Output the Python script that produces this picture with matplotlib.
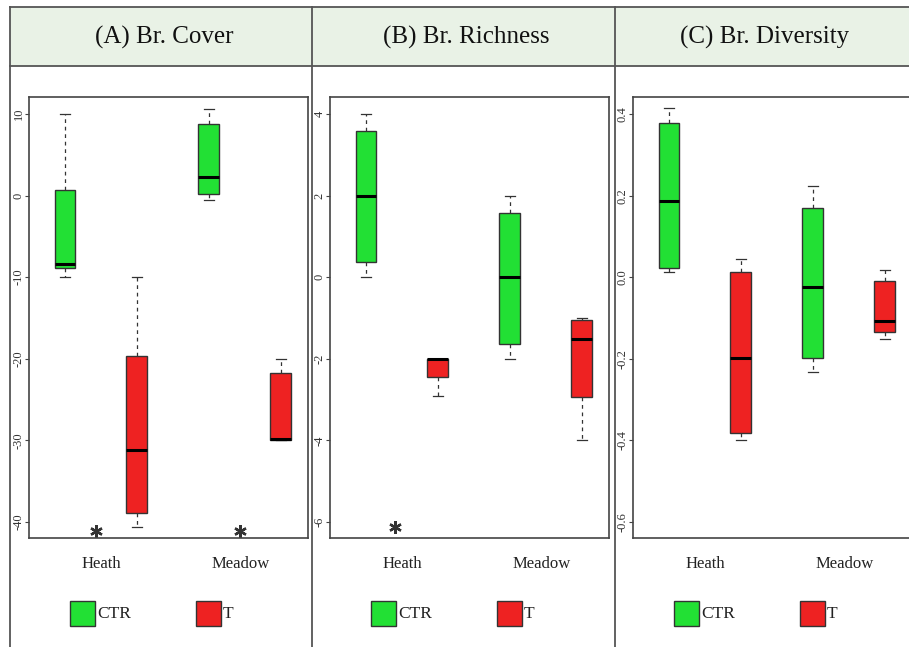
import numpy as np
import matplotlib
matplotlib.use("Agg")
import matplotlib.pyplot as plt
from matplotlib.patches import Rectangle
from matplotlib.lines import Line2D

plt.rcParams["font.family"] = ["Liberation Serif", "DejaVu Serif"]

# =========================
# DATA
# =========================

titles = ["(A) Br. Cover", "(B) Br. Richness", "(C) Br. Diversity"]
sites = ["Heath", "Meadow"]
groups = ["CTR", "T"]

# box order: Heath CTR, Heath T, Meadow CTR, Meadow T
cover_whislo = [-10.0, -40.65, -0.54, -30.0]
cover_q1 = [-8.9, -38.9, 0.2, -30.0]
cover_med = [-8.35, -31.2, 2.24, -29.8]
cover_q3 = [0.72, -19.66, 8.8, -21.8]
cover_whishi = [10.0, -10.0, 10.6, -20.0]

rich_whislo = [0.0, -2.91, -2.0, -3.98]
rich_q1 = [0.37, -2.44, -1.63, -2.93]
rich_med = [2.0, -2.0, 0.0, -1.5]
rich_q3 = [3.58, -2.0, 1.57, -1.04]
rich_whishi = [4.0, -2.0, 2.0, -1.0]

div_whislo = [0.013, -0.398, -0.233, -0.151]
div_q1 = [0.023, -0.381, -0.199, -0.135]
div_med = [0.187, -0.198, -0.023, -0.107]
div_q3 = [0.378, 0.013, 0.170, -0.008]
div_whishi = [0.415, 0.046, 0.224, 0.019]

cover_ticks = [-40, -30, -20, -10, 0, 10]
rich_ticks = [-6, -4, -2, 0, 2, 4]
div_ticks = [-0.6, -0.4, -0.2, 0.0, 0.2, 0.4]
div_ticklabels = ["-0.6", "-0.4", "-0.2", "0.0", "0.2", "0.4"]

# significance stars (x position, y value)
cover_stars = [(1.43, -41.05), (3.43, -41.05)]
rich_stars = [(1.40, -6.12)]
div_stars = []

# =========================
# STYLE
# =========================

W, H = 909, 647
GREEN = "#22e034"
RED = "#ee2222"
LINE = "#555555"
HEAD_BG = "#e9f2e6"

positions = [1, 2, 3, 4]
box_colors = [GREEN, RED, GREEN, RED]

fig = plt.figure(figsize=(W / 100, H / 100), dpi=100)


def px_rect(x0, y0, x1, y1):
    # pixel box (top-left origin) -> figure fraction rect
    return [x0 / W, 1 - y1 / H, (x1 - x0) / W, (y1 - y0) / H]


def fx(x):
    return x / W


def fy(y):
    return 1 - y / H


# header band and frame
fig.patches.append(Rectangle((fx(10), fy(66)), fx(909) - fx(10), fy(7) - fy(66),
                             transform=fig.transFigure, facecolor=HEAD_BG,
                             edgecolor="none", zorder=0))
for xs, ys in [([10, 909], [7, 7]), ([10, 909], [66, 66]), ([10, 10], [7, 647]),
               ([312, 312], [7, 647]), ([615, 615], [7, 647])]:
    fig.lines.append(Line2D([fx(v) for v in xs], [fy(v) for v in ys],
                            transform=fig.transFigure, color=LINE, lw=1.3))

panels = [
    dict(title=titles[0], x0=29, lo=cover_whislo, q1=cover_q1, med=cover_med,
         q3=cover_q3, hi=cover_whishi, ticks=cover_ticks,
         ticklabels=[str(t) for t in cover_ticks], ylim=(-41.96, 12.08),
         stars=cover_stars),
    dict(title=titles[1], x0=330, lo=rich_whislo, q1=rich_q1, med=rich_med,
         q3=rich_q3, hi=rich_whishi, ticks=rich_ticks,
         ticklabels=[str(t) for t in rich_ticks], ylim=(-6.39, 4.42),
         stars=rich_stars),
    dict(title=titles[2], x0=633, lo=div_whislo, q1=div_q1, med=div_med,
         q3=div_q3, hi=div_whishi, ticks=div_ticks,
         ticklabels=div_ticklabels, ylim=(-0.639, 0.442),
         stars=div_stars),
]

panel_left = [10, 312, 615]

for i, p in enumerate(panels):
    ax = fig.add_axes(px_rect(p["x0"], 97, p["x0"] + 279, 538))

    stats = []
    for k in range(4):
        stats.append(dict(whislo=p["lo"][k], q1=p["q1"][k], med=p["med"][k],
                          q3=p["q3"][k], whishi=p["hi"][k], fliers=[]))

    bp = ax.bxp(stats, positions=positions, widths=0.29, capwidths=0.14,
                patch_artist=True, showfliers=False,
                boxprops=dict(edgecolor="#333333", linewidth=1.0),
                medianprops=dict(color="black", linewidth=2.2),
                whiskerprops=dict(color="#333333", linewidth=0.9, linestyle=(0, (3, 3))),
                capprops=dict(color="#333333", linewidth=0.9))
    for patch, c in zip(bp["boxes"], box_colors):
        patch.set_facecolor(c)

    ax.set_xlim(0.5, 4.38)
    ax.set_ylim(*p["ylim"])
    ax.set_xticks([])
    ax.set_yticks(p["ticks"])
    ax.set_yticklabels(p["ticklabels"], rotation=90, va="center", fontsize=9,
                       color="#333333")
    ax.tick_params(axis="y", length=3, width=0.8, color="#444444", pad=0.2)
    for s in ax.spines.values():
        s.set_color("#444444")
        s.set_linewidth(1.2)

    for sx, sy in p["stars"]:
        ax.plot(sx, sy, marker=(6, 2, 0), markersize=9, mew=1.7,
                color="#333333", clip_on=False)

    # site labels under the axes
    for site, xp in zip(sites, [1.5, 3.45]):
        ax.text(xp, -0.06, site, transform=ax.get_xaxis_transform(),
                ha="center", va="center", fontsize=12, color="#222222")

    # header title
    left = panel_left[i]
    right = panel_left[i + 1] if i < 2 else 909
    fig.text(fx((left + right) / 2 + 3), fy(37), p["title"], ha="center",
             va="center", fontsize=18, color="#111111")

    # legend
    base = p["x0"] + 41
    for gx, col, lab in [(base, GREEN, groups[0]), (base + 126, RED, groups[1])]:
        fig.patches.append(Rectangle((fx(gx), fy(626)), fx(25), fy(601) - fy(626),
                                     transform=fig.transFigure, facecolor=col,
                                     edgecolor="#333333", lw=1.0))
        fig.text(fx(gx + 27), fy(614), lab, ha="left", va="center",
                 fontsize=12.5, color="#222222")

fig.savefig("out.png", dpi=100)
